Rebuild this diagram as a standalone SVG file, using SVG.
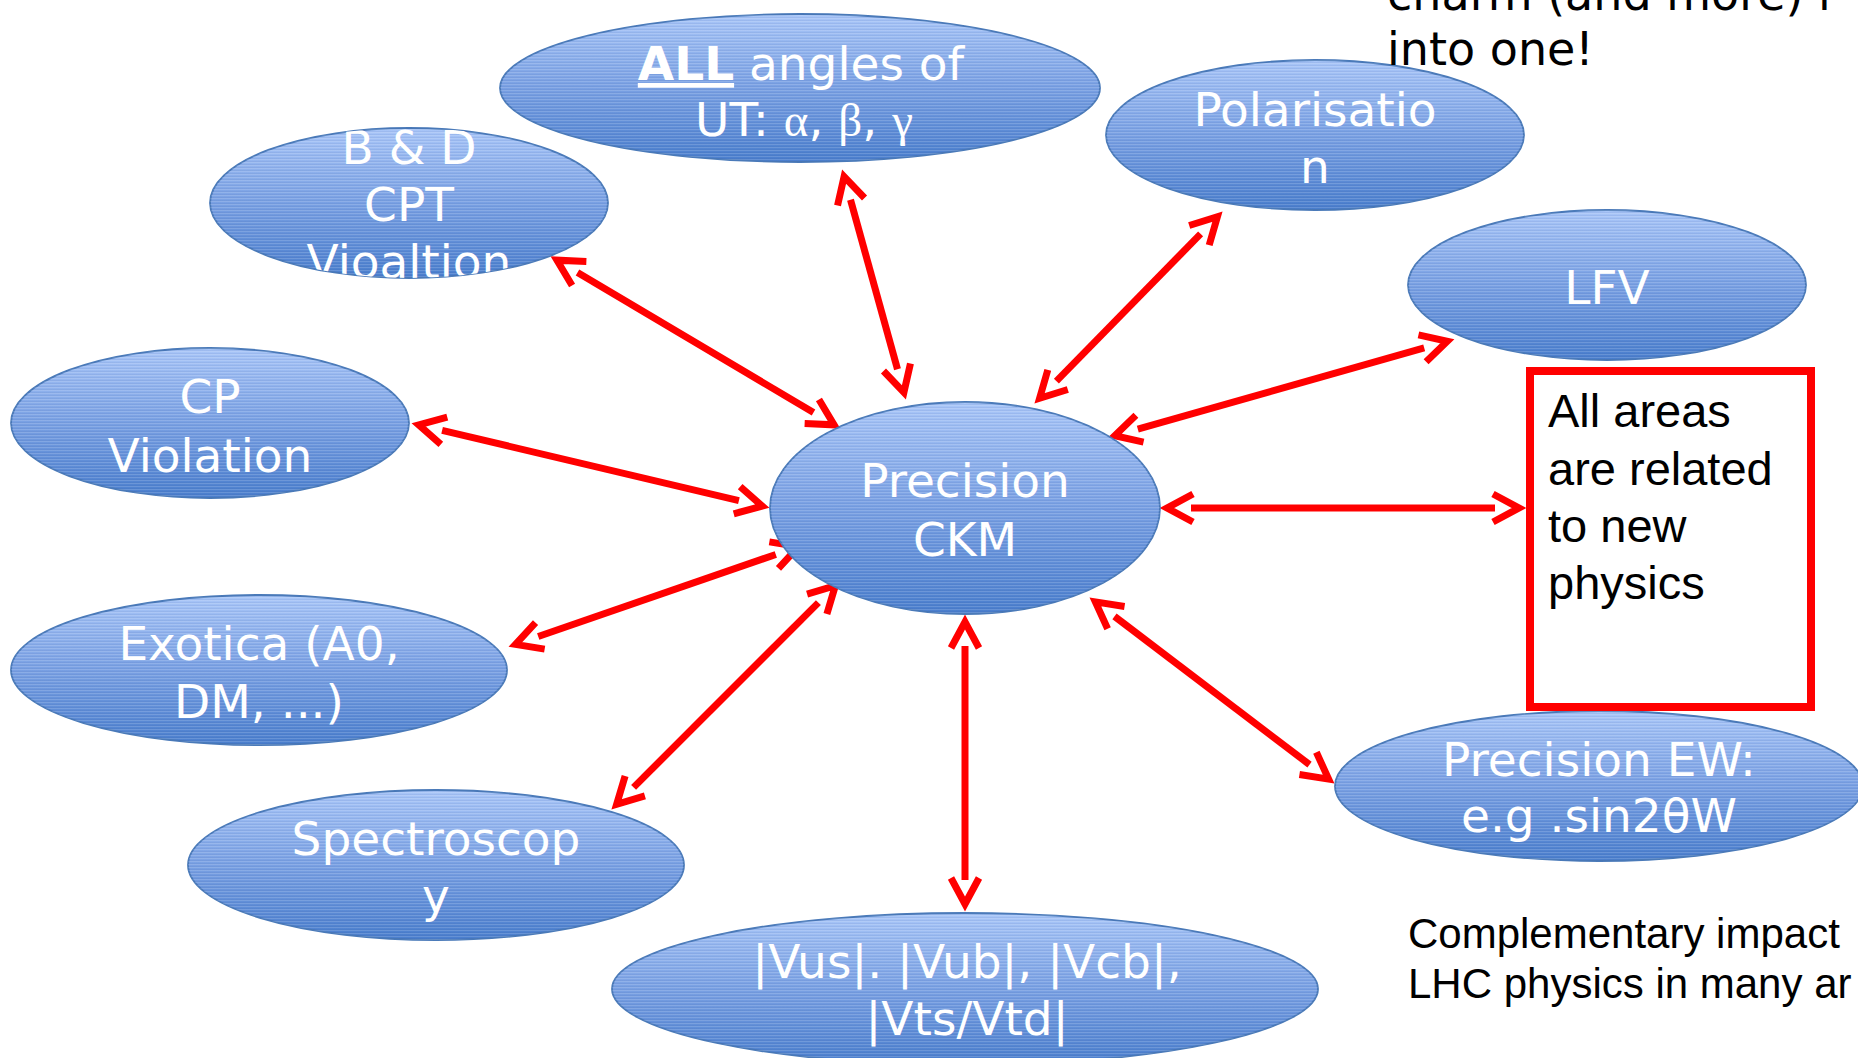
<svg xmlns="http://www.w3.org/2000/svg" width="1858" height="1058" viewBox="0 0 1858 1058">
  <defs>
    <style>
      .node-shape { fill: url(#blueFill); stroke: #4a7ab9; stroke-width: 1.8; }
      .node-bands { fill: url(#bands); stroke: none; }
      .lbl { font-family: "DejaVu Sans", "Noto Sans", sans-serif; font-size: 47px; fill: #ffffff; text-anchor: middle; }
      .greek { font-family: "Liberation Serif", "DejaVu Serif", serif; }
      .note { font-family: "Liberation Sans", Arial, sans-serif; fill: #000000; }
      .head { font-family: "DejaVu Sans", "Noto Sans", sans-serif; font-size: 46px; fill: #000000; }
      .link { stroke: #ff0000; stroke-width: 7; fill: none; marker-start: url(#tip); marker-end: url(#tip); }
    </style>
    <linearGradient id="blueFill" x1="0" y1="0" x2="0" y2="1">
      <stop offset="0" stop-color="#a9c6f8"/>
      <stop offset="0.5" stop-color="#79a0e3"/>
      <stop offset="1" stop-color="#4a7ecd"/>
    </linearGradient>
    <!-- fine horizontal banding over the gradient -->
    <pattern id="bands" patternUnits="userSpaceOnUse" width="8" height="3">
      <rect x="0" y="0" width="8" height="1" fill="#ffffff" fill-opacity="0.14"/>
      <rect x="0" y="2" width="8" height="1" fill="#1f3f80" fill-opacity="0.07"/>
    </pattern>
    <marker id="tip" markerUnits="userSpaceOnUse" orient="auto-start-reverse" overflow="visible" markerWidth="80" markerHeight="80" refX="0" refY="0">
      <path d="M-2,-14 L24,0 L-2,14" fill="none" stroke="#ff0000" stroke-width="7"/>
    </marker>
    <clipPath id="clipBD">
      <ellipse cx="409" cy="203" rx="199" ry="75"/>
    </clipPath>
  </defs>

  <rect x="0" y="0" width="1858" height="1058" fill="#ffffff"/>

  <!-- connectors -->
  <g id="connectors">
    <line class="link" x1="577.5" y1="272.4" x2="813.5" y2="412.6"/>
    <line class="link" x1="850.5" y1="199.8" x2="897.5" y2="369.2"/>
    <line class="link" x1="1200.6" y1="233.9" x2="1056.4" y2="381.1"/>
    <line class="link" x1="1424.2" y1="347.8" x2="1137.8" y2="429.2"/>
    <line class="link" x1="1191" y1="508" x2="1495" y2="508"/>
    <line class="link" x1="442.1" y1="430.4" x2="738.9" y2="500.6"/>
    <line class="link" x1="538.2" y1="636.5" x2="775.8" y2="554.5"/>
    <line class="link" x1="633.6" y1="787.4" x2="818.4" y2="602.6"/>
    <line class="link" x1="965" y1="646" x2="965" y2="880"/>
    <line class="link" x1="1114.5" y1="616.4" x2="1309.5" y2="764.6"/>
  </g>

  <g id="node-angles">
    <ellipse class="node-shape" cx="800" cy="88" rx="300" ry="74"/>
    <ellipse class="node-bands" cx="800" cy="88" rx="300" ry="74"/>
    <text class="lbl" x="801" y="80"><tspan font-weight="bold" text-decoration="underline">ALL</tspan> angles of</text>
    <text class="lbl" x="804" y="136">UT: <tspan class="greek">α</tspan>, <tspan class="greek">β</tspan>, <tspan class="greek">γ</tspan></text>
  </g>

  <g id="node-cpt">
    <ellipse class="node-shape" cx="409" cy="203" rx="199" ry="75"/>
    <ellipse class="node-bands" cx="409" cy="203" rx="199" ry="75"/>
    <g clip-path="url(#clipBD)">
      <text class="lbl" x="409" y="164">B &amp; D</text>
      <text class="lbl" x="409" y="221">CPT</text>
      <text class="lbl" x="409" y="278">Vioaltion</text>
    </g>
  </g>

  <g id="node-polarisation">
    <ellipse class="node-shape" cx="1315" cy="135" rx="209" ry="75"/>
    <ellipse class="node-bands" cx="1315" cy="135" rx="209" ry="75"/>
    <text class="lbl" x="1315" y="126">Polarisatio</text>
    <text class="lbl" x="1315" y="183">n</text>
  </g>

  <g id="node-lfv">
    <ellipse class="node-shape" cx="1607" cy="285" rx="199" ry="75"/>
    <ellipse class="node-bands" cx="1607" cy="285" rx="199" ry="75"/>
    <text class="lbl" x="1607" y="304">LFV</text>
  </g>

  <g id="node-cp">
    <ellipse class="node-shape" cx="210" cy="423" rx="199" ry="75"/>
    <ellipse class="node-bands" cx="210" cy="423" rx="199" ry="75"/>
    <text class="lbl" x="210" y="413">CP</text>
    <text class="lbl" x="210" y="472">Violation</text>
  </g>

  <g id="node-ckm">
    <ellipse class="node-shape" cx="965" cy="508" rx="195" ry="106"/>
    <ellipse class="node-bands" cx="965" cy="508" rx="195" ry="106"/>
    <text class="lbl" x="965" y="497">Precision</text>
    <text class="lbl" x="965" y="556">CKM</text>
  </g>

  <g id="node-exotica">
    <ellipse class="node-shape" cx="259" cy="670" rx="248" ry="75"/>
    <ellipse class="node-bands" cx="259" cy="670" rx="248" ry="75"/>
    <text class="lbl" x="259" y="660">Exotica (A0,</text>
    <text class="lbl" x="259" y="718">DM, ...)</text>
  </g>

  <g id="node-spectroscopy">
    <ellipse class="node-shape" cx="436" cy="865" rx="248" ry="75"/>
    <ellipse class="node-bands" cx="436" cy="865" rx="248" ry="75"/>
    <text class="lbl" x="436" y="855">Spectroscop</text>
    <text class="lbl" x="436" y="912">y</text>
  </g>

  <g id="node-vckm">
    <ellipse class="node-shape" cx="965" cy="989" rx="353" ry="76"/>
    <ellipse class="node-bands" cx="965" cy="989" rx="353" ry="76"/>
    <text class="lbl" x="967" y="978">|Vus|. |Vub|, |Vcb|,</text>
    <text class="lbl" x="967" y="1035">|Vts/Vtd|</text>
  </g>

  <g id="node-ew">
    <ellipse class="node-shape" cx="1599" cy="786" rx="264" ry="75"/>
    <ellipse class="node-bands" cx="1599" cy="786" rx="264" ry="75"/>
    <text class="lbl" x="1599" y="776">Precision EW:</text>
    <text class="lbl" x="1599" y="832">e.g .sin2θW</text>
  </g>

  <g id="node-newphysics">
    <rect x="1530" y="371" width="281" height="336" fill="none" stroke="#ff0000" stroke-width="8"/>
    <text class="note" font-size="47" x="1548" y="427">All areas</text>
    <text class="note" font-size="47" x="1548" y="485">are related</text>
    <text class="note" font-size="47" x="1548" y="542">to new</text>
    <text class="note" font-size="47" x="1548" y="599">physics</text>
  </g>

  <g id="heading">
    <text class="head" x="1387" y="10">charm (and more) i</text>
    <text class="head" x="1387" y="65">into one!</text>
  </g>

  <g id="footnote">
    <text class="note" font-size="42" x="1408" y="948">Complementary impact</text>
    <text class="note" font-size="42" x="1408" y="998">LHC physics in many ar</text>
  </g>
</svg>
